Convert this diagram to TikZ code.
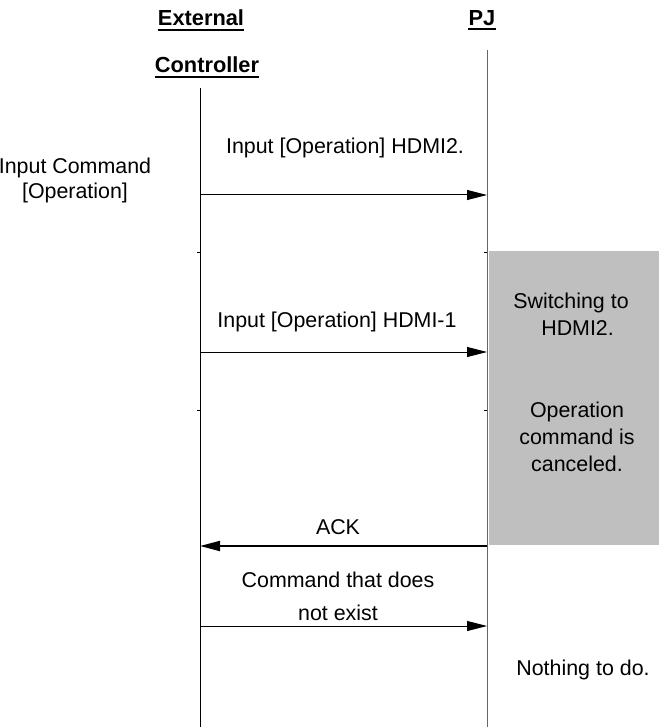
\documentclass[tikz,border=0pt]{standalone}
\usepackage{fontspec}
\setmainfont{Liberation Sans}
\usetikzlibrary{arrows.meta}

\tikzset{
    msg/.style={-{Triangle[length=10pt,width=5pt]}, line width=.5pt},
    lbl/.style={font=\fontsize{10.7}{13.5}\selectfont, align=center, inner sep=0pt},
    head/.style={font=\fontsize{10.9}{13.5}\selectfont\bfseries, inner sep=0pt},
    uline/.style={line width=1pt},
}

\begin{document}
\begin{tikzpicture}[x=.5pt, y=-.5pt]

    \useasboundingbox (0,0) rectangle (659,727);

    % gray status box on the PJ side
    \fill[black!25] (489,251) rectangle (659,545);

    \node [head] (ext)  at (201,18) {External};
    \node [head] (ctrl) at (207,65) {Controller};
    \node [head] (pj)   at (482,18) {PJ};
    \foreach \n in {ext,ctrl,pj}
        \draw[uline] ([yshift=-2pt]\n.base west) -- ([yshift=-2pt]\n.base east);

    % lifelines
    \coordinate (ctop) at (200,88);
    \coordinate (cbot) at (200,727);
    \coordinate (ptop) at (487,50);
    \coordinate (pbot) at (487,727);
    \draw[line width=.5pt] (ctop) -- (cbot);
    \draw[line width=.5pt, black!60] (ptop) -- (pbot);

    % small ticks
    \foreach \y in {252,410} {
        \draw[line width=.5pt] (197,\y) -- (200,\y);
        \draw[line width=.5pt] (484,\y) -- (487,\y);
    }

    \coordinate (c1) at (200,195);
    \coordinate (p1) at (487,195);
    \coordinate (c2) at (200,352);
    \coordinate (p2) at (487,352);
    \coordinate (c3) at (200,546);
    \coordinate (p3) at (487,546);
    \coordinate (c4) at (200,626);
    \coordinate (p4) at (487,626);

    \draw[msg] (c1) -- (p1);
    \draw[msg] (c2) -- (p2);
    \draw[msg, line width=1pt] (p3) -- (c3);
    \draw[msg] (c4) -- (p4);

    \node [lbl] (cmd)  at (75,180)  {Input Command\\[-1pt][Operation]};
    \node [lbl] (m1)   at (345,148) {Input [Operation] HDMI2.};
    \node [lbl] (m2)   at (337,322) {Input [Operation] HDMI-1};
    \node [lbl] (ack)  at (338,527) {ACK};
    \node [lbl] (m4)   at (338,596) {Command that does\\[3pt]not exist};
    \node [lbl, align=left] (sw) at (571,314) {Switching to\\\hspace{14pt}HDMI2.};
    \node [lbl] (canc) at (577,437) {Operation\\command is\\canceled.};
    \node [lbl] (none) at (583,670) {Nothing to do.};

\end{tikzpicture}
\end{document}
